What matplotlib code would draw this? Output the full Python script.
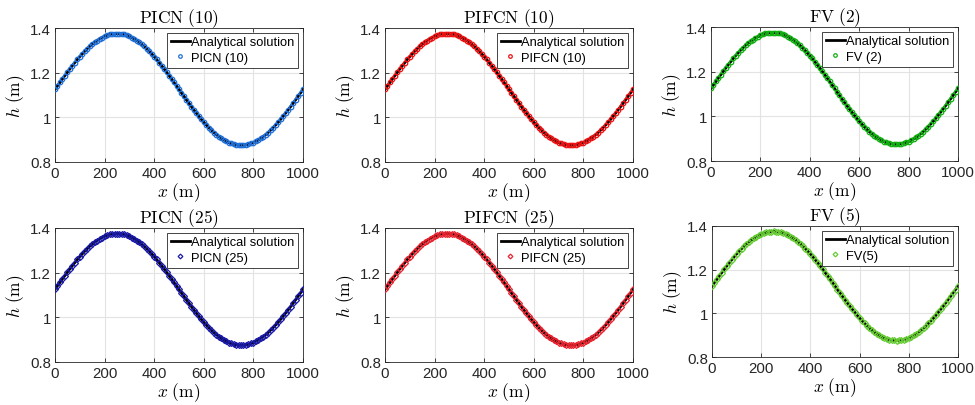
import matplotlib
matplotlib.use("Agg")
import matplotlib.pyplot as plt
from matplotlib.ticker import FixedLocator, FixedFormatter

# ---- data ----
x_m = [i * 10 for i in range(101)]
h_analytical = [
    1.125, 1.141, 1.156, 1.172, 1.187, 1.202, 1.217, 1.231, 1.245, 1.259,
    1.272, 1.284, 1.296, 1.307, 1.318, 1.327, 1.336, 1.344, 1.351, 1.357,
    1.363, 1.367, 1.371, 1.373, 1.374, 1.375, 1.374, 1.373, 1.371, 1.367,
    1.363, 1.357, 1.351, 1.344, 1.336, 1.327, 1.318, 1.307, 1.296, 1.284,
    1.272, 1.259, 1.245, 1.231, 1.217, 1.202, 1.187, 1.172, 1.156, 1.141,
    1.125, 1.109, 1.094, 1.078, 1.063, 1.048, 1.033, 1.019, 1.005, 0.991,
    0.978, 0.966, 0.954, 0.943, 0.932, 0.923, 0.914, 0.906, 0.899, 0.893,
    0.887, 0.883, 0.879, 0.877, 0.876, 0.875, 0.876, 0.877, 0.879, 0.883,
    0.887, 0.893, 0.899, 0.906, 0.914, 0.923, 0.932, 0.943, 0.954, 0.966,
    0.978, 0.991, 1.005, 1.019, 1.033, 1.048, 1.063, 1.078, 1.094, 1.109,
    1.125,
]
# numerical solutions coincide with the analytical solution at plotting scale
h_numerical = list(h_analytical)

titles = ["PICN (10)", "PIFCN (10)", "FV (2)", "PICN (25)", "PIFCN (25)", "FV (5)"]
legend_labels = ["PICN (10)", "PIFCN (10)", "FV (2)", "PICN (25)", "PIFCN (25)", "FV(5)"]
colors = ["#1f6fd8", "#ee1111", "#11b011", "#1a1aa8", "#e8232e", "#66cc33"]
markers = ["o", "o", "o", "D", "D", "D"]
x_ticks = [0, 200, 400, 600, 800, 1000]
x_tick_labels = ["0", "200", "400", "600", "800", "1000"]
y_ticks = [0.8, 1.0, 1.2, 1.4]
y_tick_labels = ["0.8", "1", "1.2", "1.4"]

plt.rcParams["mathtext.fontset"] = "cm"
plt.rcParams["font.family"] = ["Liberation Sans", "DejaVu Sans"]

W, H = 975, 406
fig = plt.figure(figsize=(W / 100, H / 100), dpi=100)

# axes boxes in pixels: (left, right, top, bottom)
boxes = [
    (55, 303, 29, 163), (385, 633, 29, 163), (711, 958, 28, 162),
    (55, 303, 229, 363), (385, 633, 229, 363), (712, 958, 227, 358),
]

for i, (l, r, t, b) in enumerate(boxes):
    ax = fig.add_axes([l / W, 1 - b / H, (r - l) / W, (b - t) / H])
    ax.plot(x_m, h_analytical, color="black", lw=2.0, label="Analytical solution", zorder=2)
    ms = 3.2 if markers[i] == "o" else 3.0
    ax.plot(x_m, h_numerical, linestyle="none", marker=markers[i], ms=ms,
            mfc="none", mec=colors[i], mew=0.9, label=legend_labels[i], zorder=3)
    ax.set_xlim(0, 1000)
    ax.set_ylim(0.8, 1.4)
    ax.xaxis.set_major_locator(FixedLocator(x_ticks))
    ax.xaxis.set_major_formatter(FixedFormatter(x_tick_labels))
    ax.yaxis.set_major_locator(FixedLocator(y_ticks))
    ax.yaxis.set_major_formatter(FixedFormatter(y_tick_labels))
    ax.grid(True, color="#e3e3e3", lw=0.8)
    ax.set_axisbelow(True)
    ax.tick_params(direction="in", length=3, width=0.6, labelsize=10.8,
                   colors="#262626", top=True, right=True, pad=3)
    for sp in ax.spines.values():
        sp.set_linewidth(0.6)
        sp.set_color("#262626")
    ax.set_title(r"$\mathrm{" + titles[i].replace(" ", r"\ ") + "}$", fontsize=12.5, pad=4)
    ax.set_xlabel(r"$x\ \mathrm{(m)}$", fontsize=12.5, labelpad=0)
    ax.set_ylabel(r"$h\ \mathrm{(m)}$", fontsize=12.5, labelpad=2)
    leg = ax.legend(loc="upper right", fontsize=9.3, frameon=True, fancybox=False,
                    borderpad=0.3, labelspacing=0.25, handlelength=1.5,
                    handletextpad=0.1, borderaxespad=0.35, markerscale=0.8)
    leg.get_frame().set_edgecolor("#262626")
    leg.get_frame().set_linewidth(0.6)
    leg.get_frame().set_alpha(1)

fig.savefig("out.png", dpi=100)
